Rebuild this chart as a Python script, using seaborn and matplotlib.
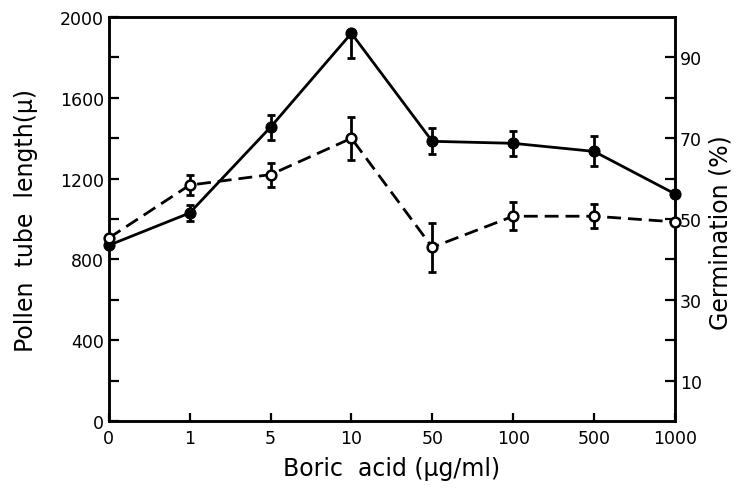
import numpy as np
import pandas as pd
import seaborn as sns
import matplotlib.pyplot as plt
from matplotlib.ticker import MultipleLocator

# boric acid doses (categorical, evenly spaced on the axis)
doses = ["0", "1", "5", "10", "50", "100", "500", "1000"]

# pollen tube length (solid line, filled circles), left axis
tube_length = [870, 1030, 1455, 1920, 1385, 1375, 1335, 1125]
tube_err_lo = [0, 40, 62, 125, 64, 62, 74, 0]
tube_err_hi = [0, 40, 62, 0, 64, 62, 74, 0]

# germination % (dashed line, open circles), right axis
germination = [45.3, 58.4, 61.0, 70.0, 43.0, 50.7, 50.7, 49.3]
germ_err = [0, 2.5, 3.0, 5.3, 6.0, 3.5, 3.0, 0]

df = pd.DataFrame({"dose": doses, "length": tube_length, "germ": germination})
df["pos"] = np.arange(len(df))

sns.set_style("ticks")
plt.rcParams["font.family"] = ["DejaVu Sans"]

fig = plt.figure(figsize=(7.4, 4.89), dpi=100)
ax = fig.add_axes([0.147, 0.137, 0.765, 0.826])
ax2 = ax.twinx()

# solid series
sns.lineplot(data=df, x="pos", y="length", ax=ax, color="black", lw=2,
             marker="o", markersize=8, mec="black", mfc="black", clip_on=False, zorder=3)
ax.errorbar(df["pos"], df["length"], yerr=[tube_err_lo, tube_err_hi], fmt="none",
            ecolor="black", elinewidth=2, capsize=3, capthick=2, clip_on=False)

# dashed series
sns.lineplot(data=df, x="pos", y="germ", ax=ax2, color="black", lw=2, linestyle=(0, (5, 2.5)),
             dashes=False, marker="o", markersize=7, mec="black", mfc="white", mew=1.8,
             clip_on=False, zorder=3)
ax2.errorbar(df["pos"], df["germ"], yerr=germ_err, fmt="none",
             ecolor="black", elinewidth=2, capsize=3, capthick=2, clip_on=False)

ax.set_xlim(0, len(doses) - 1)
ax.set_ylim(0, 2000)
ax2.set_ylim(0, 100)

ax.set_xticks(df["pos"])
ax.set_xticklabels(doses)
ax.yaxis.set_major_locator(MultipleLocator(400))
ax.yaxis.set_minor_locator(MultipleLocator(200))
ax2.set_yticks([10, 30, 50, 70, 90])
ax2.set_yticks([20, 40, 60, 80], minor=True)

for a in (ax, ax2):
    for s in a.spines.values():
        s.set_visible(True)
        s.set_linewidth(1.8)
        s.set_color("black")
    a.tick_params(which="both", direction="in", width=1.6, labelsize=12.5, colors="black")
    a.tick_params(which="major", length=7)
    a.tick_params(which="minor", length=7)
ax.tick_params(axis="x", length=6, pad=6)

ax.set_xlabel("Boric  acid (μg/ml)", fontsize=17, labelpad=6, color="black")
ax.set_ylabel("Pollen  tube  length(μ)", fontsize=17, labelpad=16, color="black")
ax2.set_ylabel("Germination (%)", fontsize=17, labelpad=4, color="black")
ax2.yaxis.set_label_coords(1.06, 0.47)

fig.savefig("out.png", dpi=100)
